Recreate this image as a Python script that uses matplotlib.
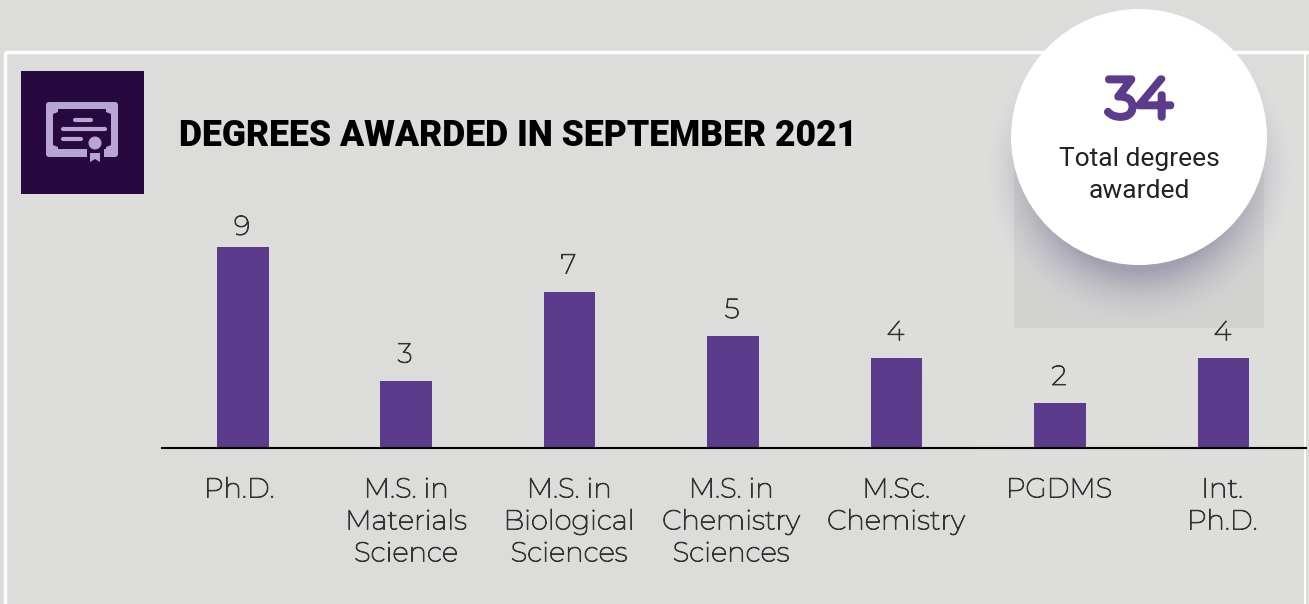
import numpy as np
import matplotlib
matplotlib.use('Agg')
import matplotlib.pyplot as plt
import matplotlib.patches as mpatches
import matplotlib.patheffects as pe

W, H = 1309, 604

categories = ['Ph.D.', 'M.S. in\nMaterials\nScience', 'M.S. in\nBiological\nSciences',
              'M.S. in\nChemistry\nSciences', 'M.Sc.\nChemistry', 'PGDMS', 'Int.\nPh.D.']
values = [9, 3, 7, 5, 4, 2, 4]
label_x = [239, 406, 569, 731, 896, 1059, 1222]
bar_x = [243, 406, 569.5, 733, 896.5, 1060, 1223.5]

body_font = ['Montserrat', 'Inter', 'DejaVu Sans']
head_font = ['Roboto', 'DejaVu Sans']
light = [pe.withStroke(linewidth=0.7, foreground='#333333')]
purple = '#5c3b8c'
icon_c = '#b7a5d3'
icon_bg = '#28093f'

fig = plt.figure(figsize=(W / 100, H / 100), dpi=100, facecolor='#dcdcdb')
bg = fig.add_axes([0, 0, 1, 1])
bg.set_xlim(0, W)
bg.set_ylim(H, 0)
bg.axis('off')

# faint diagonal lighter panel, then white frame
bg.add_patch(mpatches.Polygon([[685, 54], [1309, 54], [1309, 604], [1090, 604]], fc='#dddddc', ec='none'))
bg.add_patch(mpatches.Rectangle((5, 52), 1310, 560, fill=False, ec='white', lw=2.5))
bg.plot([1305, 1305], [52, 604], color='white', lw=1.5)

# icon
bg.add_patch(mpatches.Rectangle((21, 71), 123, 123, fc=icon_bg, ec='none'))
bg.add_patch(mpatches.FancyBboxPatch((46, 102), 72, 55, boxstyle='round,pad=0,rounding_size=3', fc=icon_c, ec='none'))
bg.add_patch(mpatches.Polygon([[58, 109], [106, 109], [106, 112], [111, 114], [111, 145], [106, 147], [106, 149],
                               [58, 149], [58, 147], [53, 145], [53, 114], [58, 112]], fc=icon_bg, ec='none'))
for x0, x1, y in [(75, 91, 120), (63, 105, 129), (63, 81, 139)]:
    bg.plot([x0, x1], [y, y], color=icon_c, lw=3, solid_capstyle='round')
bg.add_patch(mpatches.Rectangle((87, 146), 17, 20, fc=icon_bg, ec='none'))
bg.add_patch(mpatches.Circle((95, 143), 6.5, fc=icon_c, ec='none'))
bg.add_patch(mpatches.Polygon([[90, 153], [100, 153], [100, 162], [95, 159], [90, 162]], fc=icon_c, ec='none'))

# title
bg.text(179, 136, 'DEGREES AWARDED IN SEPTEMBER 2021', fontsize=25.6, fontweight='heavy',
        family=head_font, color='black', va='center', ha='left')

# grey square and soft shadow behind the circle
bg.add_patch(mpatches.Rectangle((1014, 170), 250, 158, fc='#d2d2d1', ec='none'))
yy, xx = np.mgrid[0:340, 960:1309]
dist = np.hypot(xx - 1139, yy - 170)
shadow = np.zeros(dist.shape + (4,))
shadow[..., :3] = np.array([150, 148, 168]) / 255
shadow[..., 3] = 0.8 * np.clip(1 - (dist - 100) / 56, 0, 1) ** 1.8
bg.imshow(shadow, extent=(960, 1309, 340, 0), aspect='auto', zorder=1.5, interpolation='bilinear')
bg.set_xlim(0, W)
bg.set_ylim(H, 0)
bg.add_patch(mpatches.Circle((1139, 137), 128, fc='white', ec='none', zorder=2))
bg.text(1139, 102, '34', fontsize=39.5, color=purple, ha='center', va='center', family=body_font, zorder=3,
        path_effects=[pe.withStroke(linewidth=5, foreground=purple)])
bg.text(1139, 159, 'Total degrees', fontsize=19, color='#222222', ha='center', va='center', family=head_font, zorder=3)
bg.text(1139, 191, 'awarded', fontsize=19, color='#222222', ha='center', va='center', family=head_font, zorder=3)

# bars, y axis scaled so that 9 reaches y=247 from baseline y=447
ax = fig.add_axes([161.5 / W, 1 - 447.5 / H, (1306 - 161.5) / W, 200.5 / H])
ax.set_xlim(161.5, 1306)
ax.set_ylim(0, 9)
ax.patch.set_alpha(0)
ax.bar(bar_x, values, width=51.5, color=purple)
for x, v in zip(bar_x, values):
    # the tallest label sits closer to its bar
    gap = 6 if v == max(values) else 12
    ax.annotate(str(v), (x, v), xytext=(-1, gap), textcoords='offset pixels', ha='center', va='bottom',
                fontsize=19.8, color='#333333', family=body_font, path_effects=light, annotation_clip=False)
for s in ['top', 'left', 'right']:
    ax.spines[s].set_visible(False)
ax.spines['bottom'].set_color('black')
ax.spines['bottom'].set_linewidth(1.5)
ax.set_yticks([])
ax.set_xticks([])

for x, c in zip(label_x, categories):
    for i, line in enumerate(c.split('\n')):
        bg.text(x, 490 + i * 32, line, ha='center', va='center', fontsize=19.8, color='#333333',
                family=body_font, path_effects=light)

fig.savefig('out.png', dpi=100, facecolor=fig.get_facecolor())
